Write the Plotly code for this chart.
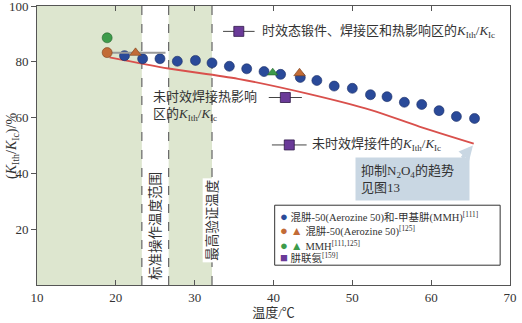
import plotly.graph_objects as go

# ---------------- data ----------------
blue_t = [21.1, 23.4, 25.6, 27.8, 30.1, 32.2, 34.4, 36.6, 38.8, 40.9, 43.4,
          45.5, 47.7, 50.0, 52.3, 54.4, 56.6, 58.8, 61.0, 63.2, 65.5]
blue_v = [82.2, 81.1, 81.1, 80.2, 80.5, 79.6, 78.4, 77.5, 76.5, 75.5, 74.4,
          73.3, 71.3, 70.5, 68.2, 67.5, 65.5, 64.7, 62.5, 60.4, 59.7]

orange_c_t = [18.9]
orange_c_v = [83.3]
orange_tri_t = [22.5, 43.3]
orange_tri_v = [83.2, 75.9]
orange_tri_err_minus = [3.6, 0]
orange_tri_err_plus = [3.8, 0]

green_c_t = [18.9]
green_c_v = [88.6]
green_tri_t = [39.9]
green_tri_v = [76.1]

purple_t = [35.6, 41.5, 42.0]
purple_v = [90.9, 67.2, 50.2]
purple_err = [2.0, 2.1, 2.2]

curve_t = [19.2, 26.7, 35.5, 44.3, 52.4, 58.5, 65.4]
curve_v = [81.6, 77.6, 73.9, 68.6, 62.7, 56.8, 50.7]

zone1 = [10, 23.3]
zone2 = [26.7, 32.2]
dashed_x = [23.3, 26.7, 32.2]

x_ticks = [10, 20, 30, 40, 50, 60, 70]
y_ticks = [20, 40, 60, 80, 100]

# ---------------- styles ----------------
FONT = "Liberation Serif, Noto Sans CJK SC, serif"
BLUE = "#2a4a99"
ORANGE = "#c26b36"
GREEN = "#3d9b4a"
PURPLE = "#6a3a98"
RED = "#d9504c"
AX = "#555555"
KRATIO = "<i>K</i><sub>Ith</sub>/<i>K</i><sub>Ic</sub>"

fig = go.Figure()

fig.add_trace(go.Scatter(x=curve_t, y=curve_v, mode="lines",
                         line=dict(color=RED, width=1.8, shape="spline", smoothing=0.8),
                         showlegend=False))
fig.add_trace(go.Scatter(x=blue_t, y=blue_v, mode="markers",
                         marker=dict(symbol="circle", size=10, color=BLUE,
                                     line=dict(color="#1c2f66", width=0.6)),
                         showlegend=False))
fig.add_trace(go.Scatter(x=orange_tri_t, y=orange_tri_v, mode="markers",
                         error_x=dict(type="data", symmetric=False, array=orange_tri_err_plus,
                                      arrayminus=orange_tri_err_minus, color="#9a9a9a",
                                      thickness=2, width=0),
                         marker=dict(symbol="triangle-up", size=10, color=ORANGE,
                                     line=dict(color="#7a3f1c", width=0.6)),
                         showlegend=False))
fig.add_trace(go.Scatter(x=orange_c_t, y=orange_c_v, mode="markers",
                         marker=dict(symbol="circle", size=10, color=ORANGE,
                                     line=dict(color="#7a3f1c", width=0.6)),
                         showlegend=False))
fig.add_trace(go.Scatter(x=green_c_t, y=green_c_v, mode="markers",
                         marker=dict(symbol="circle", size=10, color=GREEN,
                                     line=dict(color="#23612b", width=0.6)),
                         showlegend=False))
fig.add_trace(go.Scatter(x=green_tri_t, y=green_tri_v, mode="markers",
                         marker=dict(symbol="triangle-up", size=9, color=GREEN,
                                     line=dict(color="#23612b", width=0.6)),
                         showlegend=False))
fig.add_trace(go.Scatter(x=purple_t, y=purple_v, mode="markers",
                         error_x=dict(type="data", array=purple_err, color="#444444",
                                      thickness=1, width=0),
                         marker=dict(symbol="square", size=10, color=PURPLE,
                                     line=dict(color="#2e1848", width=0.8)),
                         showlegend=False))

shapes = []
for z in (zone1, zone2):
    shapes.append(dict(type="rect", xref="x", yref="y", x0=z[0], x1=z[1], y0=0, y1=100,
                       fillcolor="#dde6cf", line=dict(width=0), layer="below"))
for xv in dashed_x:
    shapes.append(dict(type="line", xref="x", yref="y", x0=xv, x1=xv, y0=0, y1=100,
                       line=dict(color="#666666", width=1.2, dash="dash"), layer="below"))
# legend frame
shapes.append(dict(type="rect", xref="x", yref="y", x0=40.15, x1=68.75, y0=7.1, y1=28.6,
                   fillcolor="white", line=dict(color="#333333", width=1)))

annotations = [
    dict(x=-0.052, y=0.5, xref="paper", yref="paper", xanchor="center", yanchor="middle",
         text="(" + KRATIO + ")/%", textangle=-90, showarrow=False,
         font=dict(size=14, color="#333333", family=FONT)),
    dict(x=38.3, y=90.7, xref="x", yref="y", xanchor="left", yanchor="middle",
         text="时效态锻件、焊接区和热影响区的" + KRATIO, showarrow=False,
         font=dict(size=13, color="#333333", family=FONT)),
    dict(x=24.4, y=64.0, xref="x", yref="y", xanchor="left", yanchor="middle", align="left",
         text="未时效焊接热影响<br>区的" + KRATIO, showarrow=False,
         font=dict(size=13, color="#333333", family=FONT)),
    dict(x=44.6, y=50.5, xref="x", yref="y", xanchor="left", yanchor="middle",
         text="未时效焊接件的" + KRATIO, showarrow=False,
         font=dict(size=13, color="#333333", family=FONT)),
    dict(x=25.1, y=21.2, xref="x", yref="y", xanchor="center", yanchor="middle",
         text="标准操作温度范围", textangle=-90, showarrow=False, bgcolor="white",
         font=dict(size=13.5, color="#333333", family=FONT)),
    dict(x=32.2, y=23.0, xref="x", yref="y", xanchor="center", yanchor="middle",
         text="最高验证温度", textangle=-90, showarrow=False, bgcolor="white",
         font=dict(size=13.5, color="#333333", family=FONT)),
    # callout arrow
    dict(x=65.3, y=50.0, xref="x", yref="y", ax=-12, ay=14, axref="pixel", ayref="pixel",
         showarrow=True, arrowhead=2, arrowsize=0.8, arrowwidth=3.5, arrowcolor="#c9d7e3",
         text=""),
    dict(x=50.3, y=46.0, xref="x", yref="y", xanchor="left", yanchor="top", align="left",
         text="抑制N<sub>2</sub>O<sub>4</sub>的趋势   <br>见图13", showarrow=False,
         bgcolor="#c9d7e3", borderpad=5,
         font=dict(size=13, color="#333333", family=FONT)),
]

legend_rows = [
    (24.6, f'<span style="color:{BLUE};font-size:13px">●</span> 混肼-50(Aerozine 50)和-甲基肼(MMH)<sup>[111]</sup>'),
    (19.4, f'<span style="color:{ORANGE};font-size:13px">●</span><span style="color:{ORANGE};font-size:12px"> ▲</span> 混肼-50(Aerozine 50)<sup>[125]</sup>'),
    (14.3, f'<span style="color:{GREEN};font-size:13px">●</span><span style="color:{GREEN};font-size:12px"> ▲</span> MMH<sup>[111,125]</sup>'),
    (9.7, f'<span style="color:{PURPLE};font-size:13px">■</span> 肼联氨<sup>[159]</sup>'),
]
for yv, txt in legend_rows:
    annotations.append(dict(x=40.6, y=yv, xref="x", yref="y", xanchor="left", yanchor="middle",
                            text=txt, showarrow=False,
                            font=dict(size=10.5, color="#333333", family=FONT)))

fig.update_layout(
    width=522, height=323,
    margin=dict(l=37, r=7, t=5, b=35),
    paper_bgcolor="white", plot_bgcolor="white",
    font=dict(family=FONT, color="#333333", size=13),
    shapes=shapes, annotations=annotations,
    showlegend=False,
)
fig.update_xaxes(range=[10, 70], tickvals=x_ticks, ticks="inside", ticklen=5,
                 tickcolor=AX, showline=True, linecolor=AX, linewidth=1, mirror="ticks",
                 showgrid=False, zeroline=False,
                 tickfont=dict(size=13, family=FONT, color="#333333"),
                 title=dict(text="温度/℃", font=dict(size=13, family=FONT), standoff=4))
fig.update_yaxes(range=[0, 100], tickvals=y_ticks, ticks="outside", ticklen=5,
                 tickcolor=AX, showline=True, linecolor=AX, linewidth=1, mirror=True,
                 showgrid=False, zeroline=False, ticklabeloverflow="allow",
                 automargin=False,
                 tickfont=dict(size=13, family=FONT, color="#333333"))

fig.write_html("out.html")
